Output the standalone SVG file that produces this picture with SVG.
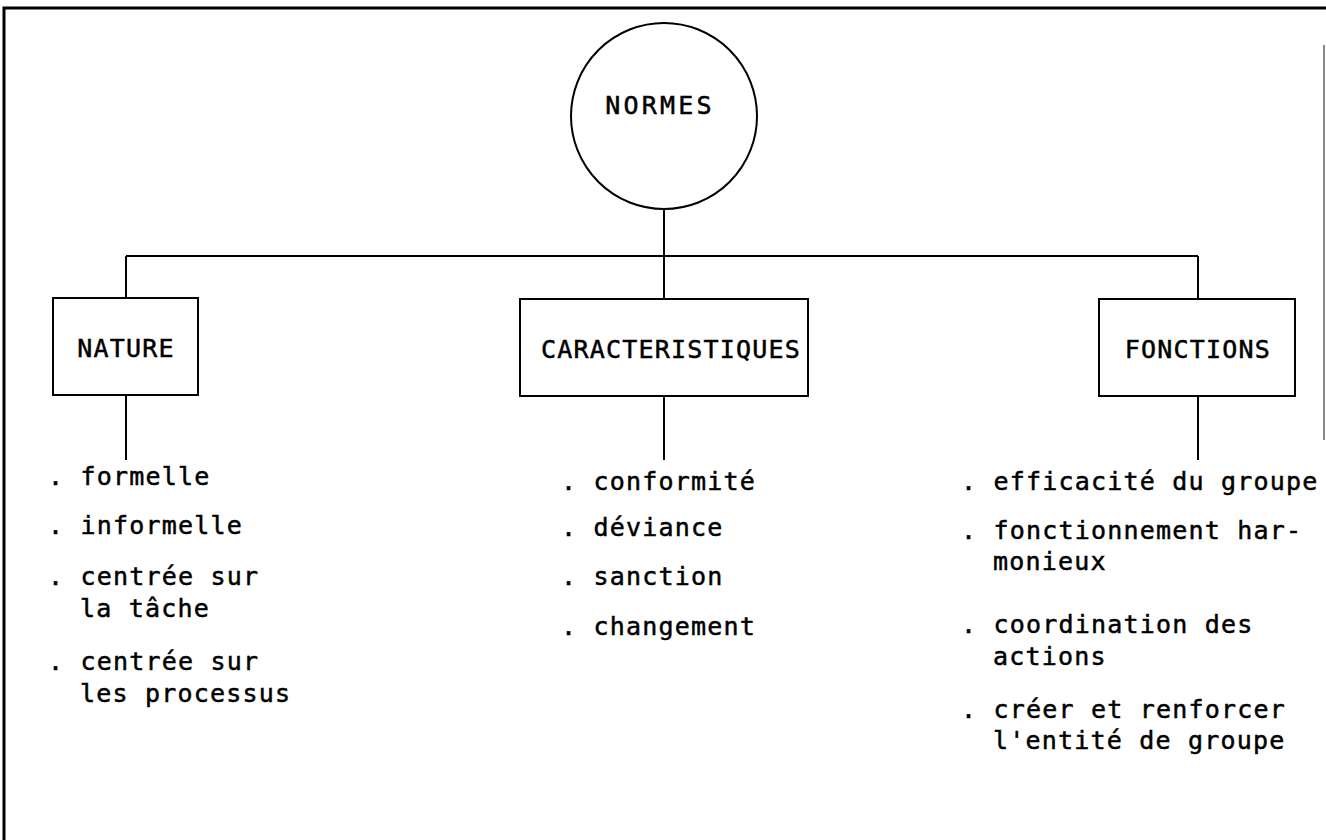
<svg xmlns="http://www.w3.org/2000/svg" width="1326" height="840" viewBox="0 0 1326 840">
  <style>
    .frame { fill: none; stroke: #000; stroke-width: 3; }
    .edge { fill: none; stroke: #000; stroke-width: 2; }
    .node { fill: #fff; stroke: #000; stroke-width: 2; }
    .label, .item { font-family: "DejaVu Sans Mono", "Liberation Mono", monospace; font-size: 25px; letter-spacing: 1.2px; fill: #000; stroke: #000; stroke-width: 0.5px; }
    .wide { letter-spacing: 3.2px; }
  </style>
  <rect width="1326" height="840" fill="#fff"/>

  <!-- page frame -->
  <g id="frame">
    <path class="frame" d="M4 840 V8 H1326"/>
    <line x1="1324" y1="45" x2="1324" y2="440" stroke="#888" stroke-width="2"/>
  </g>

  <!-- connectors -->
  <g id="connectors">
    <line class="edge" x1="664" y1="209" x2="664" y2="256"/>
    <line class="edge" x1="126" y1="256" x2="1198" y2="256"/>
    <line class="edge" x1="126" y1="256" x2="126" y2="298"/>
    <line class="edge" x1="664" y1="256" x2="664" y2="299"/>
    <line class="edge" x1="1198" y1="256" x2="1198" y2="299"/>
    <line class="edge" x1="126" y1="395" x2="126" y2="460"/>
    <line class="edge" x1="664" y1="396" x2="664" y2="460"/>
    <line class="edge" x1="1198" y1="396" x2="1198" y2="460"/>
  </g>

  <g id="normes">
    <circle class="node" cx="664" cy="116" r="93"/>
    <text class="label wide" x="660" y="114" text-anchor="middle">NORMES</text>
  </g>

  <g id="nature">
    <rect class="node" x="53" y="298" width="145" height="97"/>
    <text class="label" x="126" y="357" text-anchor="middle">NATURE</text>
  </g>

  <g id="caracteristiques">
    <rect class="node" x="520" y="299" width="288" height="97"/>
    <text class="label" x="671" y="358" text-anchor="middle">CARACTERISTIQUES</text>
  </g>

  <g id="fonctions">
    <rect class="node" x="1099" y="299" width="196" height="97"/>
    <text class="label" x="1198" y="358" text-anchor="middle">FONCTIONS</text>
  </g>

  <!-- list under NATURE -->
  <g id="nature-items" class="item">
    <text x="48" y="485">. formelle</text>
    <text x="48" y="534">. informelle</text>
    <text x="48" y="585">. centrée sur</text>
    <text x="80" y="617">la tâche</text>
    <text x="48" y="670">. centrée sur</text>
    <text x="80" y="702">les processus</text>
  </g>

  <!-- list under CARACTERISTIQUES -->
  <g id="caracteristiques-items" class="item">
    <text x="561" y="490">. conformité</text>
    <text x="561" y="536">. déviance</text>
    <text x="561" y="585">. sanction</text>
    <text x="561" y="635">. changement</text>
  </g>

  <!-- list under FONCTIONS -->
  <g id="fonctions-items" class="item">
    <text x="961" y="490">. efficacité du groupe</text>
    <text x="961" y="539">. fonctionnement har-</text>
    <text x="993" y="570">monieux</text>
    <text x="961" y="633">. coordination des</text>
    <text x="993" y="665">actions</text>
    <text x="961" y="718">. créer et renforcer</text>
    <text x="993" y="749">l'entité de groupe</text>
  </g>
</svg>
